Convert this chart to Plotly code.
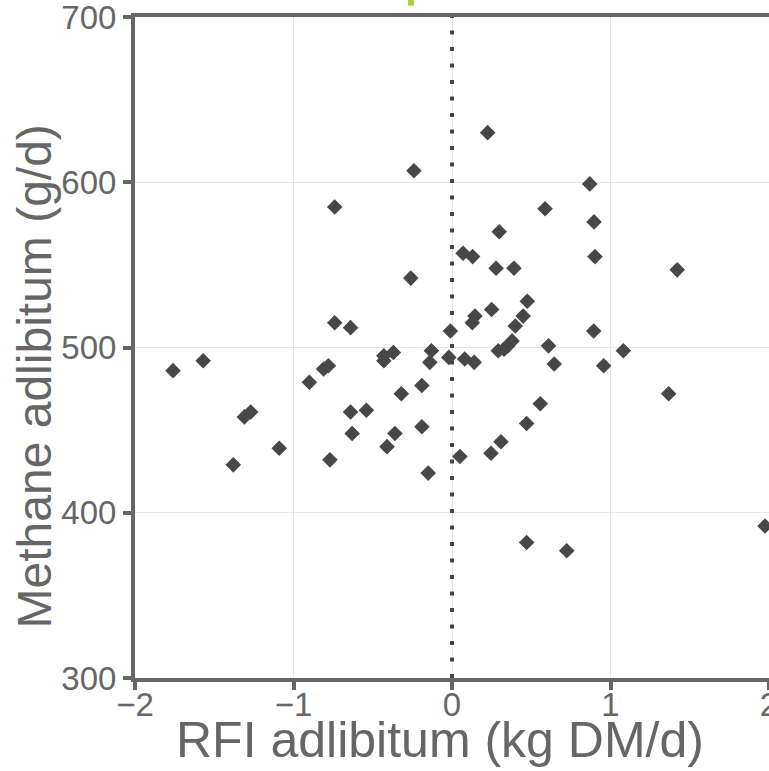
import plotly.graph_objects as go

rfi_adlibitum = [
    -1.76, -1.57, -1.38, -1.31, -1.27, -1.09, -0.90, -0.81, -0.78, -0.74,
    -0.74, -0.77, -0.64, -0.64, -0.63, -0.54, -0.43, -0.37, -0.43, -0.41,
    -0.36, -0.32, -0.26, -0.24, -0.19, -0.19, -0.15, -0.13, -0.14, -0.02,
    -0.01, 0.05, 0.07, 0.13, 0.08, 0.14, 0.145, 0.128, 0.225, 0.25,
    0.246, 0.278, 0.391, 0.587, 0.869, 0.896, 0.298, 0.902, 1.421, 0.475,
    0.449, 0.399, 0.292, 0.328, 0.353, 0.379, 0.609, 0.645, 0.894, 1.081,
    0.957, 0.309, 0.471, 0.557, 1.367, 0.471, 0.724, 1.975,
]
methane_adlibitum = [
    486, 492, 429, 458, 461, 439, 479, 487, 489, 585,
    515, 432, 512, 461, 448, 462, 495, 497, 492, 440,
    448, 472, 542, 607, 477, 452, 424, 498, 491, 494,
    510, 434, 557, 555, 493, 491, 519, 515, 630, 523,
    436, 548, 548, 584, 599, 576, 570, 555, 547, 528,
    519, 513, 498, 499, 501, 504, 501, 490, 510, 498,
    489, 443, 454, 466, 472, 382, 377, 392,
]

x_ticks = [-2, -1, 0, 1, 2]
x_tick_text = ["\u22122", "\u22121", "0", "1", "2"]
y_ticks = [300, 400, 500, 600, 700]
x_title = "RFI adlibitum (kg DM/d)"
y_title = "Methane adlibitum (g/d)"

axis_color = "#666666"
font_family = "Liberation Sans, Arial, sans-serif"

fig = go.Figure()
fig.add_trace(go.Scatter(
    x=rfi_adlibitum, y=methane_adlibitum, mode="markers",
    marker=dict(symbol="diamond", size=12, color="#474747", line=dict(width=0)),
    cliponaxis=False, showlegend=False, hoverinfo="skip",
))

fig.add_shape(type="line", x0=0, x1=0, y0=0, y1=1, xref="x", yref="paper",
              line=dict(color="#444444", width=4, dash="4px,12.5px"), layer="above")
fig.add_shape(type="rect", xref="paper", yref="paper",
              x0=0.4306, x1=0.4400, y0=1.0172, y1=1.03,
              fillcolor="#a8cf3c", line=dict(width=0))

fig.add_annotation(text=x_title, xref="paper", yref="paper", x=0.481, y=-0.094,
                   xanchor="center", yanchor="middle", showarrow=False,
                   font=dict(family=font_family, size=50, color=axis_color))
fig.add_annotation(text=y_title, xref="paper", yref="paper", x=-0.158, y=0.456,
                   xanchor="center", yanchor="middle", showarrow=False, textangle=-90,
                   font=dict(family=font_family, size=48, color=axis_color))

axis_common = dict(
    showline=True, linecolor=axis_color, linewidth=4, mirror=True,
    ticks="outside", ticklen=8, tickwidth=4, tickcolor=axis_color,
    showgrid=True, gridcolor="#e6e6e6", gridwidth=1, zeroline=False,
    automargin=False, ticklabeloverflow="allow",
    tickfont=dict(family=font_family, size=33, color=axis_color),
)

fig.update_layout(
    width=769, height=771,
    margin=dict(l=135, r=0, t=17, b=93),
    paper_bgcolor="white", plot_bgcolor="white",
    xaxis=dict(range=[-2, 2], tickvals=x_ticks, ticktext=x_tick_text,
               ticklabelstandoff=-14, **axis_common),
    yaxis=dict(range=[300, 700], tickvals=y_ticks, ticklabelstandoff=0, **axis_common),
)

post = ("document.body.style.margin='0';document.body.style.padding='0';"
        "document.body.style.overflow='hidden';"
        "var gd=document.getElementById('{plot_id}');"
        "Plotly.relayout(gd,{width:769,height:771});")

fig.write_html("out.html", post_script=post, config={"displayModeBar": False})
